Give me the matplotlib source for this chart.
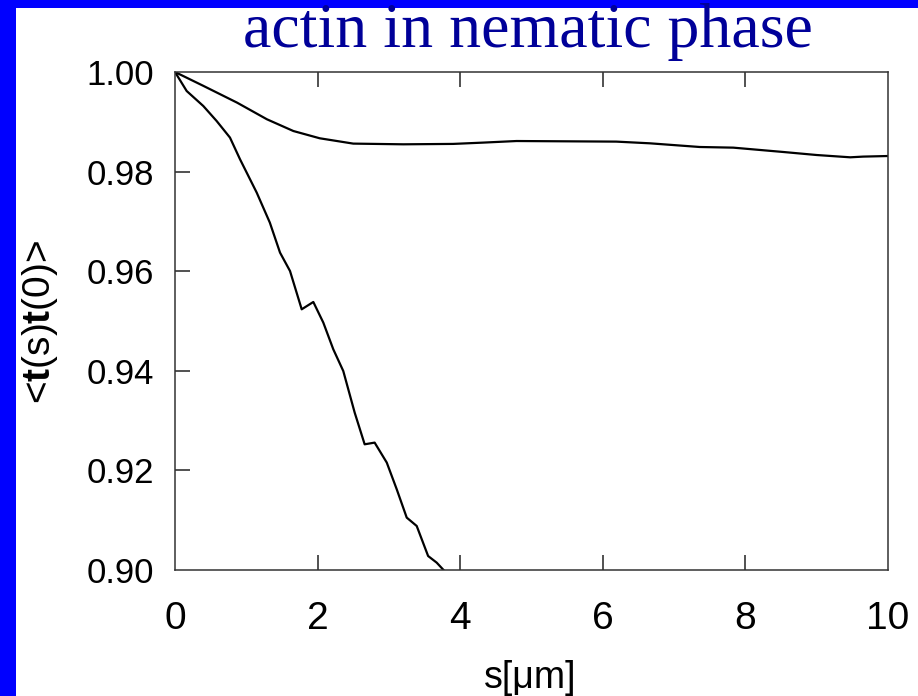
import matplotlib
matplotlib.use("Agg")
import matplotlib.pyplot as plt
from matplotlib.patches import Rectangle

plt.rcParams["font.family"] = ["Liberation Sans", "DejaVu Sans"]
plt.rcParams["mathtext.fontset"] = "custom"
plt.rcParams["mathtext.rm"] = "Liberation Sans"
plt.rcParams["mathtext.bf"] = "Liberation Sans:bold"

# upper curve
s_upper = [0.0, 0.40, 0.87, 1.29, 1.66, 2.03, 2.50, 3.20, 3.90, 4.32, 4.79,
           6.19, 6.66, 7.36, 7.83, 8.53, 9.00, 9.47, 9.65, 10.0]
t_upper = [1.0, 0.9972, 0.99385, 0.9905, 0.98815, 0.98669, 0.98562, 0.98548,
           0.98556, 0.98582, 0.98614, 0.98602, 0.98568, 0.98494, 0.98481,
           0.98394, 0.98333, 0.98287, 0.98301, 0.98313]

# lower curve
s_lower = [0.0, 0.164, 0.397, 0.584, 0.771, 0.912, 1.146, 1.33, 1.473, 1.613,
           1.777, 1.94, 2.08, 2.22, 2.36, 2.52, 2.66, 2.80, 2.97, 3.11, 3.25,
           3.39, 3.55, 3.67, 3.76, 3.80]
t_lower = [1.0, 0.99618, 0.99317, 0.99016, 0.98683, 0.98247, 0.97578, 0.96976,
           0.96373, 0.96004, 0.95235, 0.95382, 0.94968, 0.94432, 0.93996,
           0.93161, 0.92524, 0.92558, 0.92157, 0.9162, 0.91052, 0.90884,
           0.90281, 0.90148, 0.9001, 0.8995]

x_ticks = [0, 2, 4, 6, 8, 10]
y_ticks = [0.90, 0.92, 0.94, 0.96, 0.98, 1.00]

fig = plt.figure(figsize=(9.18, 6.96), dpi=100)
fig.patch.set_facecolor("white")

# blue slide border (left and top)
fig.patches.append(Rectangle((0, 0), 16 / 918, 1, transform=fig.transFigure,
                             facecolor="#0000ff", edgecolor="none", zorder=0))
fig.patches.append(Rectangle((0, 1 - 7.5 / 696), 1, 7.5 / 696,
                             transform=fig.transFigure, facecolor="#0000ff",
                             edgecolor="none", zorder=0))

ax = fig.add_axes([175 / 918, 1 - 570 / 696, 713 / 918, 498 / 696])
ax.plot(s_upper, t_upper, color="black", linewidth=1.6)
ax.plot(s_lower, t_lower, color="black", linewidth=1.6)

ax.set_xlim(0, 10)
ax.set_ylim(0.90, 1.00)
ax.set_xticks(x_ticks)
ax.set_xticklabels([str(v) for v in x_ticks])
ax.set_yticks(y_ticks)
ax.set_yticklabels([f"{v:.2f}" for v in y_ticks])

for side in ax.spines.values():
    side.set_color("#333333")
    side.set_linewidth(1.1)

ax.tick_params(axis="x", direction="in", top=True, length=11, width=1.1,
               color="#222222", labelsize=28, pad=22)
ax.tick_params(axis="y", direction="in", right=False, length=11, width=1.1,
               color="#222222", labelsize=25, pad=15)
# no ticks at the ends of the frame
for t in ax.xaxis.get_major_ticks()[::5]:
    t.tick1line.set_visible(False)
    t.tick2line.set_visible(False)
for t in ax.yaxis.get_major_ticks()[::5]:
    t.tick1line.set_visible(False)

fig.text(528 / 918, 1 - 47 / 696, "actin in nematic phase",
         family="Liberation Serif", fontsize=46, color="#000099",
         ha="center", va="baseline")
fig.text(40 / 918, 1 - 322 / 696, r"<$\mathbf{t}$(s)$\mathbf{t}$(0)>",
         fontsize=28, rotation=90, ha="center", va="center")
fig.text(530 / 918, 1 - 688 / 696, "s[μm]", fontsize=27,
         ha="center", va="baseline")

fig.savefig("out.png", dpi=100)
